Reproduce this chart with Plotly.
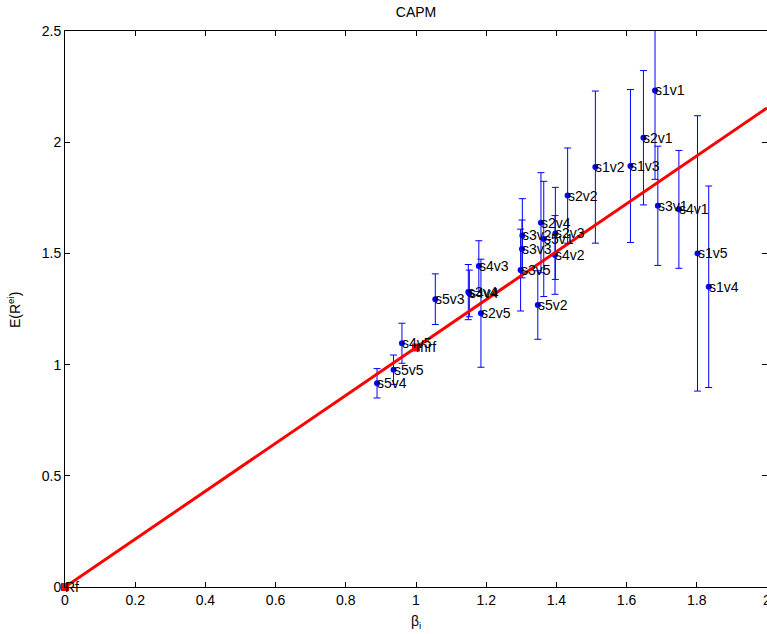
import plotly.graph_objects as go

# Portfolio labels, betas, expected excess returns and error half-widths
labels = ["s1v1", "s1v2", "s1v3", "s1v4", "s1v5",
          "s2v1", "s2v2", "s2v3", "s2v4", "s2v5",
          "s3v1", "s3v2", "s3v3", "s3v4", "s3v5",
          "s4v1", "s4v2", "s4v3", "s4v4", "s4v5",
          "s5v1", "s5v2", "s5v3", "s5v4", "s5v5"]
beta = [1.681, 1.511, 1.611, 1.834, 1.802,
        1.648, 1.432, 1.397, 1.356, 1.185,
        1.689, 1.303, 1.302, 1.149, 1.298,
        1.749, 1.396, 1.179, 1.152, 0.960,
        1.364, 1.347, 1.055, 0.889, 0.936]
ret = [2.233, 1.888, 1.893, 1.350, 1.500,
       2.020, 1.760, 1.590, 1.638, 1.231,
       1.714, 1.581, 1.520, 1.326, 1.425,
       1.698, 1.493, 1.443, 1.320, 1.096,
       1.565, 1.268, 1.294, 0.916, 0.977]
err = [0.400, 0.342, 0.344, 0.453, 0.619,
       0.302, 0.214, 0.207, 0.225, 0.243,
       0.268, 0.165, 0.130, 0.124, 0.184,
       0.265, 0.177, 0.114, 0.105, 0.090,
       0.259, 0.154, 0.114, 0.066, 0.066]

# Risk-free and market points
rf_label, rf_beta, rf_ret = "Rf", 0.0, 0.0
m_label, m_beta, m_ret = "mrf", 1.0, 1.077

xticks = [0, 0.2, 0.4, 0.6, 0.8, 1.0, 1.2, 1.4, 1.6, 1.8, 2.0]
xticklabels = ["0", "0.2", "0.4", "0.6", "0.8", "1", "1.2", "1.4", "1.6", "1.8", "2"]
yticks = [0, 0.5, 1.0, 1.5, 2.0, 2.5]
yticklabels = ["0", "0.5", "1", "1.5", "2", "2.5"]

FONT = "Liberation Sans, Arial, Helvetica, sans-serif"

fig = go.Figure()

fig.add_trace(go.Scatter(
    x=beta, y=ret, mode="markers",
    marker=dict(color="#0000ff", size=6),
    error_y=dict(type="data", array=err, visible=True, color="#0000ff",
                 thickness=1, width=3.5),
    showlegend=False, hoverinfo="skip"))

line_x = [0.0, 2.0]
line_y = [rf_ret + b * (m_ret - rf_ret) / (m_beta - rf_beta) for b in line_x]
fig.add_trace(go.Scatter(
    x=line_x, y=line_y, mode="lines",
    line=dict(color="#ff0000", width=3),
    showlegend=False, hoverinfo="skip", cliponaxis=True))

fig.add_trace(go.Scatter(
    x=[rf_beta, m_beta], y=[rf_ret, m_ret], mode="markers",
    marker=dict(color="#ff0000", size=8, symbol="square"),
    showlegend=False, hoverinfo="skip", cliponaxis=False))

annotations = []
for lab, bx, ry in zip(labels + [rf_label, m_label],
                       beta + [rf_beta, m_beta],
                       ret + [rf_ret, m_ret]):
    annotations.append(dict(
        x=bx, y=ry, xref="x", yref="y", text=lab, showarrow=False,
        xanchor="left", yanchor="middle", borderpad=0, xshift=-1,
        font=dict(family=FONT, size=14, color="black")))

# last x tick label sits on the right edge and is partly cut off
annotations.append(dict(
    x=xticks[-1], y=0, xref="x", yref="paper", text=xticklabels[-1],
    showarrow=False, xanchor="center", yanchor="top", yshift=-3,
    font=dict(family=FONT, size=14, color="black")))

annotations.append(dict(
    x=0.5, y=(587 - 622) / 556, xref="paper", yref="paper",
    text="β<sub>i</sub>", showarrow=False, xanchor="center", yanchor="middle",
    font=dict(family=FONT, size=14, color="black")))
annotations.append(dict(
    x=(14 - 65) / 702, y=(587 - 310) / 556, xref="paper", yref="paper",
    text="E(R<sup>ei</sup>)", showarrow=False, textangle=-90,
    xanchor="center", yanchor="middle",
    font=dict(family=FONT, size=14, color="black")))

fig.update_layout(
    width=767, height=634,
    margin=dict(l=65, r=0, t=31, b=47),
    paper_bgcolor="white", plot_bgcolor="white",
    title=dict(text="CAPM", x=(416) / 767, xanchor="center",
               y=1 - 12 / 634, yanchor="middle", yref="container",
               font=dict(family=FONT, size=14, color="black")),
    annotations=annotations,
    xaxis=dict(range=[0, 2], tickvals=xticks[:-1], ticktext=xticklabels[:-1],
               ticks="inside", ticklen=5, tickcolor="black",
               showline=True, linecolor="black", linewidth=1, mirror="ticks",
               showgrid=False, zeroline=False,
               tickfont=dict(family=FONT, size=14, color="black")),
    yaxis=dict(range=[0, 2.5], tickvals=yticks, ticktext=yticklabels,
               ticks="inside", ticklen=5, tickcolor="black",
               showline=True, linecolor="black", linewidth=1, mirror="ticks",
               showgrid=False, zeroline=False,
               tickfont=dict(family=FONT, size=14, color="black")),
)

fig.write_html("out.html",
               config={"displayModeBar": False},
               post_script="document.body.style.margin='0';"
                           "document.body.style.overflow='hidden';")
